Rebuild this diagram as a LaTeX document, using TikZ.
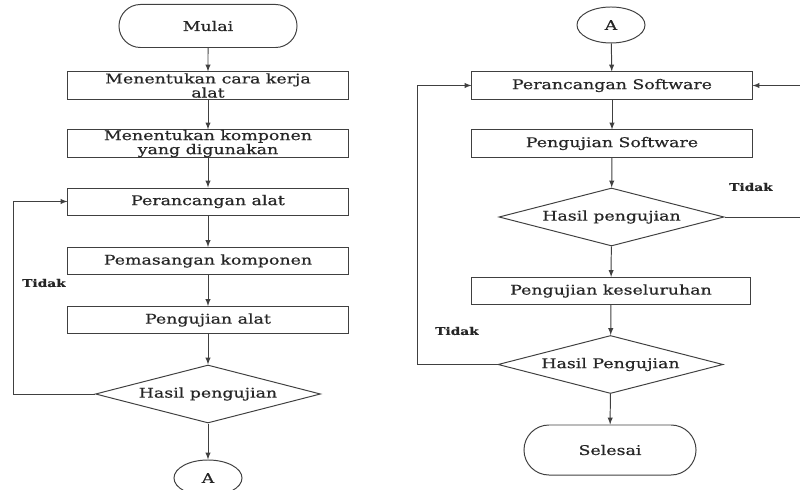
\documentclass[tikz,border=0pt]{standalone}
\usepackage{fontspec}
\setmainfont[FakeStretch=1.3, FakeBold=0.6]{DejaVu Serif}
\usepackage{xcolor}
\usetikzlibrary{shapes.geometric, shapes.misc}
\usetikzlibrary{arrows}
\definecolor{flowline}{gray}{0.25}
\definecolor{flowtext}{gray}{0.15}

\begin{document}
\begin{tikzpicture}[x=0.025cm, y=-0.025cm, line width=0.7pt,
  every node/.style={font=\fontsize{9.5}{10}\selectfont, text=flowtext},
  process/.style={draw=flowline, rectangle, minimum width=7cm, minimum height=0.675cm, inner ysep=0pt, align=center},
  decision/.style={draw=flowline, diamond, aspect=3.9, minimum width=5.625cm, minimum height=1.45cm, inner sep=0pt},
  terminal/.style={draw=flowline, rounded rectangle, inner sep=0pt},
  connector/.style={draw=flowline, ellipse, minimum width=1.7cm, minimum height=0.9cm, inner sep=0pt},
  flow/.style={draw=flowline, -latex},
  nolabel/.style={font=\fontsize{7.5}{8}\selectfont\bfseries}]
  \useasboundingbox (0, 0) rectangle (800, 490);

  % Left column
  \node[terminal, minimum width=4.45cm, minimum height=1.075cm] (start) at (208, 26) {Mulai};
  \node[process] (b1) at (208, 85.5) {Menentukan cara kerja\\alat};
  \node[process] (b2) at (208, 143.5) {Menentukan komponen\\yang digunakan};
  \node[process] (b3) at (208, 201.5) {Perancangan alat};
  \node[process] (b4) at (208, 261) {Pemasangan komponen};
  \node[process] (b5) at (208, 320) {Pengujian alat};
  \node[decision] (d1) at (208, 394) {Hasil pengujian};
  \node[connector] (a1) at (208, 478) {A};

  \draw[flow] (start) -- (b1);
  \draw[flow] (b1) -- (b2);
  \draw[flow] (b2) -- (b3);
  \draw[flow] (b3) -- (b4);
  \draw[flow] (b4) -- (b5);
  \draw[flow] (b5) -- (d1);
  \draw[flow] (d1) -- (a1);

  % Loop back to Perancangan alat
  \coordinate (lloop) at (13, 394);
  \draw[flow] (d1.west) -- (lloop) |- (b3.west);
  \node[nolabel] (t1) at (44, 283) {Tidak};

  % Right column
  \node[connector] (a2) at (611, 25) {A};
  \node[process] (r1) at (612, 85.5) {Perancangan Software};
  \node[process] (r2) at (612, 143.5) {Pengujian Software};
  \node[decision] (d2) at (611.5, 217) {Hasil pengujian};
  \node[process, minimum width=6.95cm] (r3) at (611, 291) {Pengujian keseluruhan};
  \node[decision] (d3) at (610.5, 364.5) {Hasil Pengujian};
  \node[terminal, minimum width=4.3cm, minimum height=1.25cm] (stop) at (610, 450) {Selesai};

  \draw[flow] (a2) -- (r1);
  \draw[flow] (r1) -- (r2);
  \draw[flow] (r2) -- (d2);
  \draw[flow] (d2) -- (r3);
  \draw[flow] (r3) -- (d3);
  \draw[flow] (d3) -- (stop);

  % Loops back to Perancangan Software
  \coordinate (rloopa) at (803, 217);
  \draw[flow] (d2.east) -- (rloopa) |- (r1.east);
  \node[nolabel] (t2) at (751, 187) {Tidak};

  \coordinate (rloopb) at (417, 364.5);
  \draw[flow] (d3.west) -- (rloopb) |- (r1.west);
  \node[nolabel] (t3) at (457, 331) {Tidak};
\end{tikzpicture}
\end{document}
